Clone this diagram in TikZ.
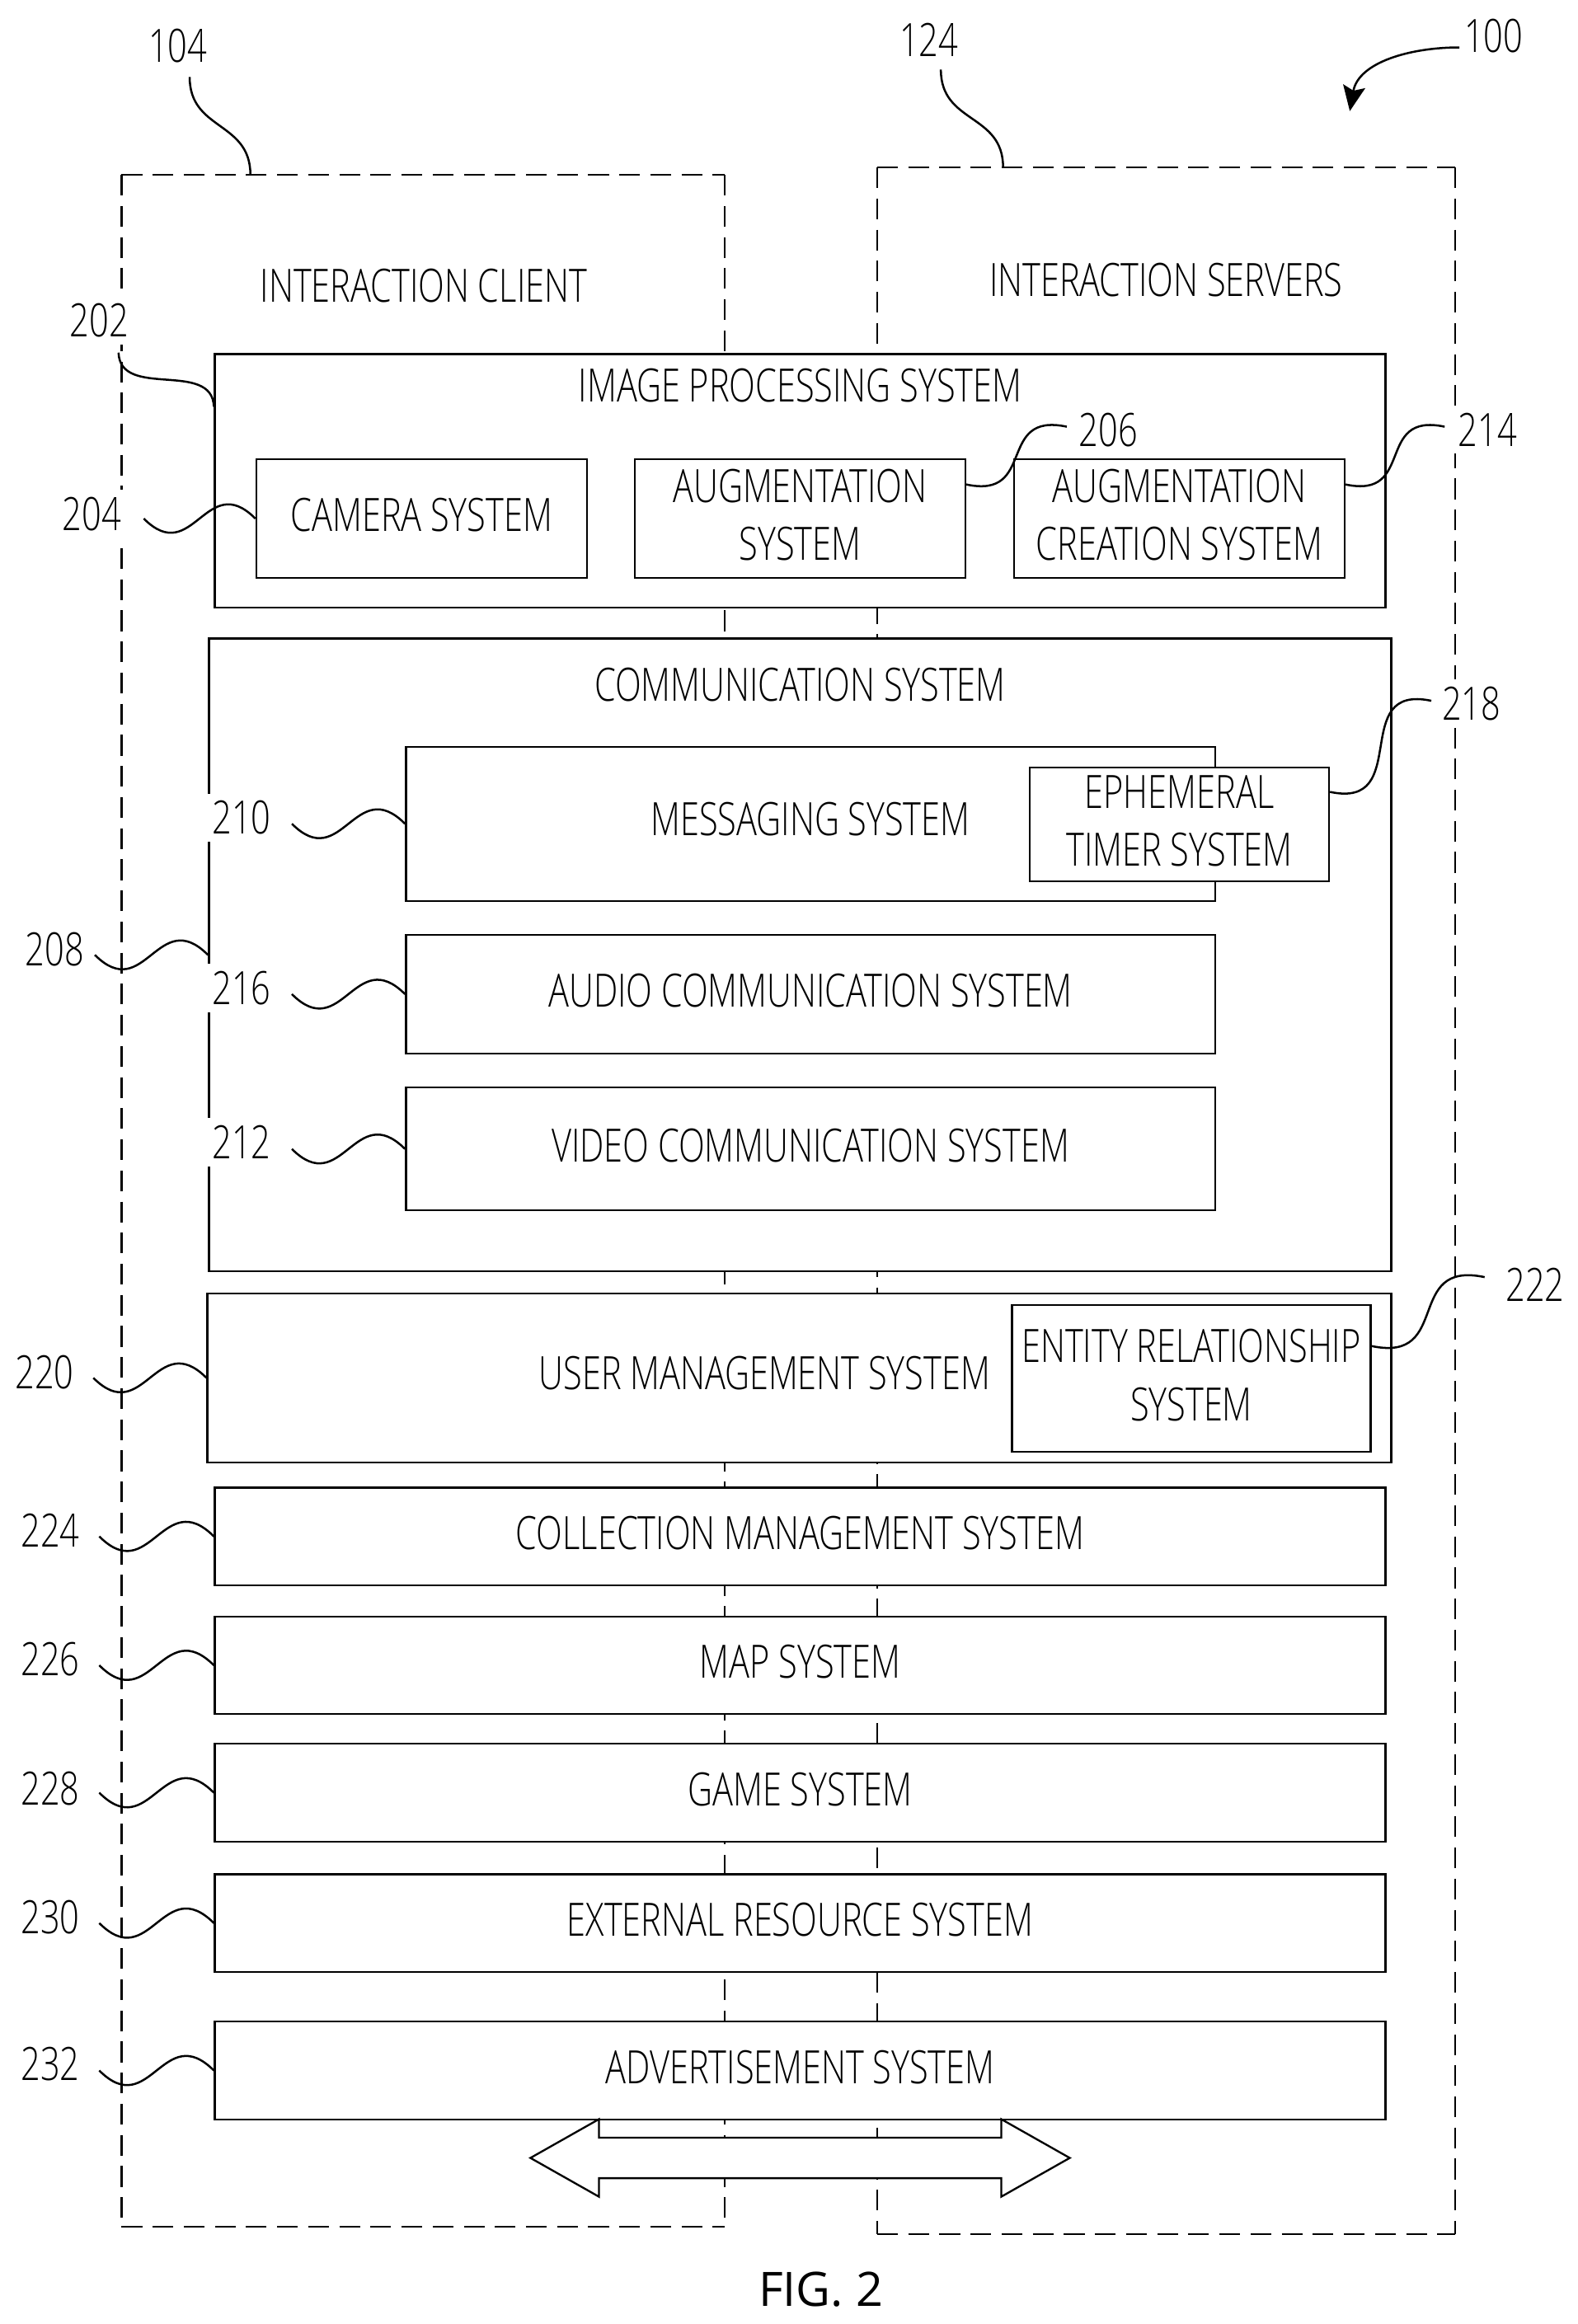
\documentclass[tikz,border=0pt]{standalone}
\usepackage{fontspec}
\setmainfont[FakeStretch=0.745]{Open Sans Light}
\newfontfamily\figfont{Open Sans}
\usetikzlibrary{arrows.meta,shapes.arrows}
\tikzset{
    sysbox/.style={draw=black, fill=white, line width=1.3pt, inner sep=0pt, align=center, font=\fontsize{31}{39}\selectfont, text depth=5pt},
    caption/.style={inner sep=0pt, align=center, font=\fontsize{31}{39}\selectfont},
    numlabel/.style={caption, fill=white, inner xsep=3pt, inner ysep=5pt},
    dashframe/.style={line width=1.3pt, dash pattern=on 14pt off 7pt},
    lead/.style={line width=1.4pt},
    leadl/.style={lead, out=-45, in=135, looseness=1.6},
    leadr/.style={lead, out=-12, in=168, looseness=1.6},
    leadt/.style={lead, out=-90, in=90, looseness=1.2}
}
\begin{document}
\begin{tikzpicture}[x=1pt, y=1pt]
    \useasboundingbox (0,0) rectangle (1065,-1568.6);

    % Dashed frames
    \coordinate (cnw) at (82,-118);
    \coordinate (cne) at (489,-118);
    \coordinate (cse) at (489,-1503);
    \coordinate (csw) at (82,-1503);
    \coordinate (snw) at (592,-113);
    \coordinate (sne) at (982,-113);
    \coordinate (sse) at (982,-1508);
    \coordinate (ssw) at (592,-1508);
    \draw[dashframe] (cnw) -- (cne);
    \draw[dashframe] (cne) -- (cse);
    \draw[dashframe] (csw) -- (cse);
    \draw[dashframe] (cnw) -- (csw);
    \draw[dashframe] (snw) -- (sne);
    \draw[dashframe] (sne) -- (sse);
    \draw[dashframe] (ssw) -- (sse);
    \draw[dashframe] (snw) -- (ssw);
    \node[caption] (clientname) at (286,-193) {INTERACTION CLIENT};
    \node[caption] (servername) at (787,-189) {INTERACTION SERVERS};

    % Image processing
    \node[sysbox, minimum width=790pt, minimum height=171pt] (imgproc) at (540,-324.5) {};
    \node[caption] (imgname) at (540,-260) {IMAGE PROCESSING SYSTEM};
    \node[sysbox, minimum width=223pt, minimum height=80pt] (camera) at (284.5,-350) {CAMERA SYSTEM};
    \node[sysbox, minimum width=223pt, minimum height=80pt] (augment) at (540,-350) {AUGMENTATION\\SYSTEM};
    \node[sysbox, minimum width=223pt, minimum height=80pt] (creation) at (796,-350) {AUGMENTATION\\CREATION SYSTEM};

    % Communication
    \node[sysbox, minimum width=798pt, minimum height=427pt] (comm) at (540,-644.5) {};
    \node[caption] (commname) at (540,-462) {COMMUNICATION SYSTEM};
    \node[sysbox, minimum width=546pt, minimum height=104pt] (messaging) at (547,-556) {};
    \node[caption] (msgname) at (547,-553) {MESSAGING SYSTEM};
    \node[sysbox, minimum width=202pt, minimum height=77pt] (ephemeral) at (796,-556.5) {EPHEMERAL\\TIMER SYSTEM};
    \node[sysbox, minimum width=546pt, minimum height=80pt] (audio) at (547,-671) {AUDIO COMMUNICATION SYSTEM};
    \node[sysbox, minimum width=546pt, minimum height=83pt] (video) at (547,-775.5) {VIDEO COMMUNICATION SYSTEM};

    % User management
    \node[sysbox, minimum width=799pt, minimum height=114pt] (user) at (539.5,-930) {};
    \node[caption] (username) at (516,-927) {USER MANAGEMENT SYSTEM};
    \node[sysbox, minimum width=242pt, minimum height=99pt] (entity) at (804,-930.5) {ENTITY RELATIONSHIP\\SYSTEM};

    % Lower rows
    \node[sysbox, minimum width=790pt, minimum height=66pt] (collection) at (540,-1037) {COLLECTION MANAGEMENT SYSTEM};
    \node[sysbox, minimum width=790pt, minimum height=66pt] (map) at (540,-1124) {MAP SYSTEM};
    \node[sysbox, minimum width=790pt, minimum height=66pt] (game) at (540,-1210) {GAME SYSTEM};
    \node[sysbox, minimum width=790pt, minimum height=66pt] (external) at (540,-1298) {EXTERNAL RESOURCE SYSTEM};
    \node[sysbox, minimum width=790pt, minimum height=66pt] (ads) at (540,-1397.5) {ADVERTISEMENT SYSTEM};

    % Bus
    \node[double arrow, draw=black, fill=white, line width=1.3pt, inner sep=0pt, inner ysep=13pt,
        minimum height=364pt, minimum width=51pt, double arrow head extend=12.5pt, double arrow tip angle=59] (bus) at (540,-1456.5) {};
    \node[inner sep=0pt, font=\figfont\fontsize{32}{39}\selectfont] (fig) at (554,-1545) {FIG. 2};

    % Numbers
    \node[caption] (l100) at (1008,-24) {100};
    \node[caption] (l104) at (120,-31) {104};
    \node[caption] (l124) at (627,-27) {124};
    \node[numlabel] (l202) at (67,-216) {202};
    \node[numlabel] (l204) at (62,-347) {204};
    \node[caption] (l206) at (748,-290) {206};
    \node[caption] (l208) at (37,-641) {208};
    \node[numlabel] (l210) at (163,-552) {210};
    \node[numlabel] (l212) at (163,-771) {212};
    \node[numlabel] (l214) at (1004,-290) {214};
    \node[numlabel] (l216) at (163,-667) {216};
    \node[numlabel] (l218) at (993,-475) {218};
    \node[caption] (l220) at (30,-926) {220};
    \node[caption] (l222) at (1036,-867) {222};
    \node[caption] (l224) at (34,-1033) {224};
    \node[caption] (l226) at (34,-1120) {226};
    \node[caption] (l228) at (34,-1207) {228};
    \node[caption] (l230) at (34,-1294) {230};
    \node[caption] (l232) at (34,-1393) {232};

    % Free ends of the leads
    \coordinate (s100) at (985,-32);
    \coordinate (e100) at (911,-75);
    \coordinate (s104) at (128,-52);
    \coordinate (e104) at (169,-118);
    \coordinate (s124) at (635,-47);
    \coordinate (e124) at (677,-113);
    \coordinate (s202) at (80,-238);
    \coordinate (s204) at (97,-350);
    \coordinate (s206) at (720,-288);
    \coordinate (s208) at (64,-644.5);
    \coordinate (s210) at (197,-556);
    \coordinate (s212) at (197,-775.5);
    \coordinate (s214) at (975,-288);
    \coordinate (s216) at (197,-671);
    \coordinate (s218) at (966,-473);
    \coordinate (s220) at (63,-930);
    \coordinate (s222) at (1002,-862);
    \coordinate (s224) at (67,-1037);
    \coordinate (s226) at (67,-1124);
    \coordinate (s228) at (67,-1210);
    \coordinate (s230) at (67,-1298);
    \coordinate (s232) at (67,-1397.5);

    % Leads
    \draw[lead, -{Stealth[length=17pt, width=15pt, inset=3pt]}] (s100) to[out=180, in=80] (e100);
    \draw[leadt] (s104) to (e104);
    \draw[leadt] (s124) to (e124);
    \draw[lead] (s202) to[out=-88, in=92, looseness=1.1] ([yshift=50pt]imgproc.west);
    \draw[leadl] (s204) to (camera.west);
    \draw[leadr] ([yshift=23pt]augment.east) to (s206);
    \draw[leadl] (s208) to (comm.west);
    \draw[leadl] (s210) to (messaging.west);
    \draw[leadl] (s212) to (video.west);
    \draw[leadr] ([yshift=23pt]creation.east) to (s214);
    \draw[leadl] (s216) to (audio.west);
    \draw[leadr] ([yshift=22pt]ephemeral.east) to (s218);
    \draw[leadl] (s220) to (user.west);
    \draw[leadr] ([yshift=22pt]entity.east) to (s222);
    \draw[leadl] (s224) to (collection.west);
    \draw[leadl] (s226) to (map.west);
    \draw[leadl] (s228) to (game.west);
    \draw[leadl] (s230) to (external.west);
    \draw[leadl] (s232) to (ads.west);
\end{tikzpicture}
\end{document}
